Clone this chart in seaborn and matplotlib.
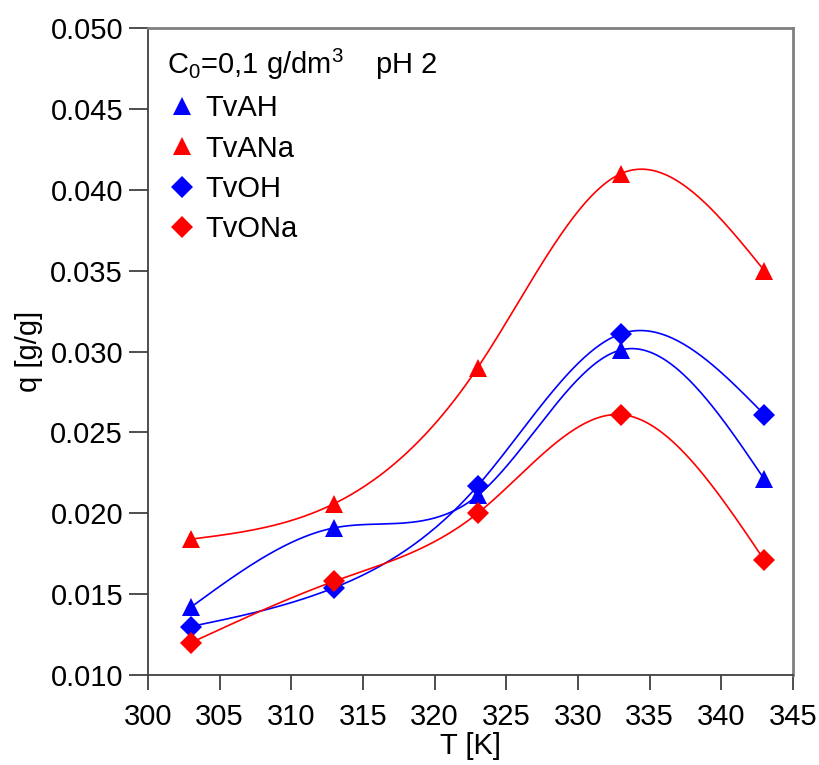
import numpy as np
import pandas as pd
import matplotlib
matplotlib.use("Agg")
import matplotlib.pyplot as plt
from matplotlib.lines import Line2D
import seaborn as sns

# data
temperature = [303, 313, 323, 333, 343]
q_tvah = [0.0142, 0.0191, 0.0211, 0.0301, 0.0221]
q_tvana = [0.0184, 0.0206, 0.0290, 0.0410, 0.0350]
q_tvoh = [0.0130, 0.0154, 0.0217, 0.0311, 0.0261]
q_tvona = [0.0120, 0.0158, 0.0200, 0.0261, 0.0171]

series_names = ["TvAH", "TvANa", "TvOH", "TvONa"]
series_values = [q_tvah, q_tvana, q_tvoh, q_tvona]
colors = {"TvAH": "#0000ff", "TvANa": "#ff0000", "TvOH": "#0000ff", "TvONa": "#ff0000"}
markers = {"TvAH": "^", "TvANa": "^", "TvOH": "D", "TvONa": "D"}
msizes = {"^": 13, "D": 11}


def natural_spline(x, y, xs):
    """Natural cubic spline through the points, evaluated at xs."""
    x = np.asarray(x, float)
    y = np.asarray(y, float)
    n = len(x)
    h = np.diff(x)
    A = np.zeros((n, n))
    b = np.zeros(n)
    A[0, 0] = A[-1, -1] = 1
    for i in range(1, n - 1):
        A[i, i - 1] = h[i - 1]
        A[i, i] = 2 * (h[i - 1] + h[i])
        A[i, i + 1] = h[i]
        b[i] = 6 * ((y[i + 1] - y[i]) / h[i] - (y[i] - y[i - 1]) / h[i - 1])
    M = np.linalg.solve(A, b)
    idx = np.clip(np.searchsorted(x, xs) - 1, 0, n - 2)
    x0, x1 = x[idx], x[idx + 1]
    hh = x1 - x0
    t0, t1 = x1 - xs, xs - x0
    return (M[idx] * t0**3 / (6 * hh) + M[idx + 1] * t1**3 / (6 * hh)
            + (y[idx] / hh - M[idx] * hh / 6) * t0
            + (y[idx + 1] / hh - M[idx + 1] * hh / 6) * t1)


points = pd.DataFrame(
    [(name, t, q) for name, vals in zip(series_names, series_values)
     for t, q in zip(temperature, vals)],
    columns=["series", "T", "q"],
)
xs = np.linspace(temperature[0], temperature[-1], 300)
curves = pd.concat(
    [pd.DataFrame({"series": name, "T": xs, "q": natural_spline(temperature, vals, xs)})
     for name, vals in zip(series_names, series_values)]
)

sns.set_style("ticks")
plt.rcParams["font.family"] = ["Liberation Sans", "DejaVu Sans"]
plt.rcParams["mathtext.fontset"] = "custom"
plt.rcParams["mathtext.rm"] = "Liberation Sans"
plt.rcParams["mathtext.it"] = "Liberation Sans:italic"
plt.rcParams["text.color"] = "black"
plt.rcParams["axes.labelcolor"] = "black"
plt.rcParams["xtick.color"] = "black"
plt.rcParams["ytick.color"] = "black"

fig = plt.figure(figsize=(8.2, 7.65), dpi=100)
ax = fig.add_axes([0.1805, 0.1176, 0.7866, 0.8458])

sns.lineplot(data=curves, x="T", y="q", hue="series", palette=colors,
             linewidth=1.2, legend=False, ax=ax, sort=False, estimator=None)
for name in series_names:
    sub = points[points["series"] == name]
    m = markers[name]
    ax.plot(sub["T"], sub["q"], linestyle="none", marker=m, ms=msizes[m],
            color=colors[name], markeredgewidth=0, zorder=5)

ax.set_xlim(300, 345)
ax.set_ylim(0.010, 0.050)
ax.set_xticks(np.arange(300, 346, 5))
ax.set_yticks(np.arange(0.010, 0.0501, 0.005))
ax.yaxis.set_major_formatter(matplotlib.ticker.FormatStrFormatter("%.3f"))
ax.tick_params(axis="both", labelsize=21, color="#404040", width=1.3)
ax.tick_params(axis="y", length=14, pad=4)
ax.tick_params(axis="x", length=11, pad=9)
ax.set_xlabel("T [K]", fontsize=21, labelpad=1)
ax.set_ylabel("q [g/g]", fontsize=21, labelpad=5)

for side in ["left", "bottom"]:
    ax.spines[side].set_color("#404040")
    ax.spines[side].set_linewidth(1.3)
for side in ["top", "right"]:
    ax.spines[side].set_visible(True)
    ax.spines[side].set_color("#808080")
    ax.spines[side].set_linewidth(2)

handles = [Line2D([], [], linestyle="none", marker=markers[n], ms=msizes[markers[n]],
                  color=colors[n], markeredgewidth=0) for n in series_names]
leg = ax.legend(handles, series_names, loc="upper left", bbox_to_anchor=(0.0, 1.0),
                title="C$_0$=0,1 g/dm$^3$    pH 2", title_fontsize=21, fontsize=21,
                frameon=False, handlelength=1.0, handletextpad=0.3, labelspacing=0.42,
                borderaxespad=0.25, alignment="left")

fig.savefig("out.png", dpi=100)
